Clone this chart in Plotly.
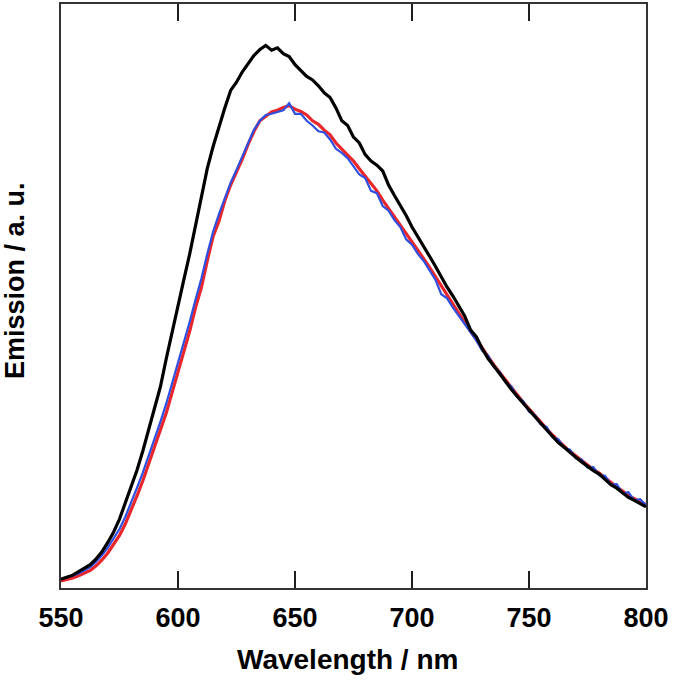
import plotly.graph_objects as go

wavelength = [550 + 2.5 * i for i in range(101)]

black = [0.015, 0.018, 0.022, 0.028, 0.034, 0.040, 0.050, 0.062, 0.078, 0.096,
         0.118, 0.145, 0.172, 0.202, 0.235, 0.272, 0.307, 0.345, 0.393, 0.440,
         0.483, 0.528, 0.572, 0.622, 0.672, 0.718, 0.756, 0.790, 0.822, 0.852,
         0.866, 0.884, 0.899, 0.912, 0.922, 0.929, 0.921, 0.925, 0.915, 0.910,
         0.896, 0.886, 0.876, 0.870, 0.860, 0.848, 0.840, 0.822, 0.800, 0.792,
         0.772, 0.762, 0.742, 0.731, 0.724, 0.714, 0.690, 0.672, 0.655, 0.638,
         0.618, 0.602, 0.585, 0.568, 0.551, 0.533, 0.515, 0.500, 0.482, 0.466,
         0.442, 0.430, 0.410, 0.393, 0.380, 0.366, 0.353, 0.340, 0.328, 0.316,
         0.305, 0.292, 0.282, 0.271, 0.259, 0.249, 0.241, 0.232, 0.224, 0.216,
         0.208, 0.201, 0.195, 0.186, 0.177, 0.171, 0.163, 0.155, 0.150, 0.144,
         0.139]

red = [0.012, 0.014, 0.017, 0.021, 0.025, 0.030, 0.038, 0.048, 0.060, 0.074,
       0.090, 0.110, 0.133, 0.158, 0.184, 0.212, 0.240, 0.270, 0.300, 0.335,
       0.370, 0.405, 0.440, 0.480, 0.515, 0.560, 0.602, 0.628, 0.663, 0.690,
       0.712, 0.735, 0.760, 0.782, 0.800, 0.808, 0.815, 0.818, 0.823, 0.826,
       0.820, 0.816, 0.810, 0.800, 0.794, 0.784, 0.776, 0.762, 0.752, 0.742,
       0.731, 0.718, 0.706, 0.694, 0.680, 0.664, 0.650, 0.636, 0.622, 0.607,
       0.592, 0.579, 0.564, 0.549, 0.533, 0.517, 0.502, 0.487, 0.471, 0.455,
       0.440, 0.425, 0.410, 0.396, 0.382, 0.369, 0.356, 0.343, 0.330, 0.318,
       0.307, 0.295, 0.284, 0.273, 0.262, 0.252, 0.243, 0.234, 0.226, 0.218,
       0.210, 0.203, 0.197, 0.189, 0.180, 0.173, 0.166, 0.158, 0.153, 0.148,
       0.143]

blue = [0.016, 0.018, 0.021, 0.025, 0.030, 0.036, 0.045, 0.056, 0.069, 0.084,
        0.101, 0.122, 0.146, 0.172, 0.198, 0.226, 0.255, 0.285, 0.316, 0.350,
        0.385, 0.420, 0.456, 0.494, 0.530, 0.572, 0.610, 0.640, 0.668, 0.694,
        0.716, 0.738, 0.762, 0.785, 0.800, 0.810, 0.812, 0.815, 0.818, 0.830,
        0.812, 0.812, 0.800, 0.792, 0.782, 0.780, 0.768, 0.752, 0.745, 0.736,
        0.722, 0.708, 0.702, 0.680, 0.676, 0.654, 0.646, 0.630, 0.618, 0.597,
        0.588, 0.572, 0.560, 0.544, 0.528, 0.503, 0.496, 0.480, 0.466, 0.452,
        0.436, 0.424, 0.406, 0.398, 0.378, 0.370, 0.352, 0.345, 0.327, 0.320,
        0.302, 0.296, 0.280, 0.276, 0.258, 0.255, 0.240, 0.237, 0.222, 0.220,
        0.206, 0.207, 0.193, 0.192, 0.177, 0.178, 0.162, 0.164, 0.150, 0.152,
        0.142]

x_ticks = [550, 600, 650, 700, 750, 800]
x_tick_labels = ["<b>%d</b>" % v for v in x_ticks]
tick_frac = 0.029  # tick length as a fraction of plot height

fig = go.Figure()
fig.add_trace(go.Scatter(x=wavelength, y=red, mode="lines",
                         line=dict(color="#e8262b", width=3.2), showlegend=False))
fig.add_trace(go.Scatter(x=wavelength, y=blue, mode="lines",
                         line=dict(color="#2f4fe0", width=2.2), showlegend=False))
fig.add_trace(go.Scatter(x=wavelength, y=black, mode="lines",
                         line=dict(color="black", width=3.2), showlegend=False))

for v in x_ticks[1:-1]:
    fig.add_shape(type="line", xref="x", yref="paper", x0=v, x1=v,
                  y0=0, y1=tick_frac, line=dict(color="rgb(30,30,30)", width=2),
                  layer="above")
    fig.add_shape(type="line", xref="x", yref="paper", x0=v, x1=v,
                  y0=1 - tick_frac, y1=1, line=dict(color="rgb(30,30,30)", width=2),
                  layer="above")

fig.update_layout(
    width=673, height=680,
    margin=dict(l=61, r=27, t=4, b=92),
    paper_bgcolor="white",
    plot_bgcolor="white",
    xaxis=dict(range=[550, 800], tickvals=x_ticks, ticktext=x_tick_labels,
               ticks="inside", ticklen=17, tickwidth=2, tickcolor="rgb(30,30,30)",
               showline=True, linewidth=2, linecolor="#333333", mirror="allticks",
               showgrid=False, automargin=False, ticklabelstandoff=5,
               tickfont=dict(family="Liberation Sans", size=27, color="black")),
    yaxis=dict(range=[0, 1], showticklabels=False, ticks="", showline=True,
               linewidth=2, linecolor="#333333", mirror=True, showgrid=False,
               zeroline=False, automargin=False),
    annotations=[
        dict(text="<b>Wavelength / nm</b>", xref="paper", yref="paper",
             x=0.49, y=-0.123, xanchor="center", yanchor="middle",
             showarrow=False,
             font=dict(family="Liberation Sans", size=28, color="black")),
        dict(text="<b>Emission / a. u.</b>", xref="paper", yref="paper",
             x=-0.079, y=0.527, xanchor="center", yanchor="middle",
             textangle=-90, showarrow=False,
             font=dict(family="Liberation Sans", size=27, color="black")),
    ],
)

fig.write_html("out.html", post_script="document.body.style.margin='0';",
               config={"displayModeBar": False})
